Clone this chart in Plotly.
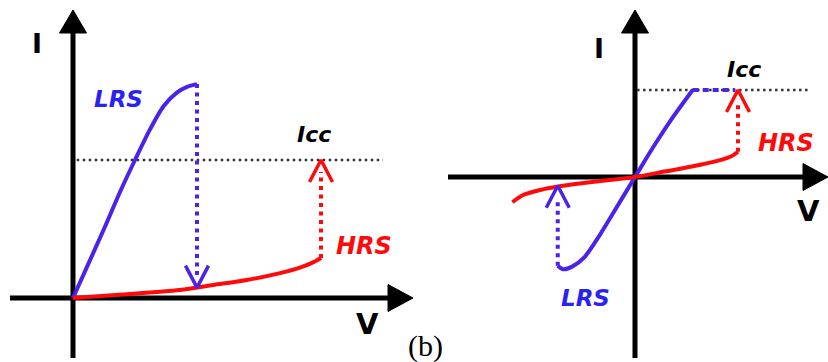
import plotly.graph_objects as go

W, H = 828, 362

# ---------------- data (normalised V / I units) ----------------
# Panel (a): unipolar switching
lrs_a_v = [0, 0.12, 0.25, 0.38, 0.50, 0.62, 0.73, 0.84, 0.92, 1.0]
lrs_a_i = [0, 0.24, 0.50, 0.77, 1.0, 1.22, 1.39, 1.49, 1.53, 1.55]
hrs_a_v = [0, 0.40, 0.86, 1.13, 1.40, 1.67, 1.83, 1.94, 2.0]
hrs_a_i = [0, 0.025, 0.058, 0.094, 0.13, 0.18, 0.22, 0.26, 0.29]
icc_a = 1.0
icc_a_span = [0.03, 2.50]
reset_a = (1.0, 1.55, 0.075)   # V, from I, to I
set_a = (2.0, 0.29, 1.0)

# Panel (b): bipolar switching
lrs_b_v = [-0.75, -0.70, -0.61, -0.49, -0.36, -0.21, 0, 0.17, 0.37, 0.56]
lrs_b_i = [-1.02, -1.06, -1.03, -0.92, -0.70, -0.41, 0, 0.33, 0.69, 1.0]
hrs_b_v = [-1.19, -1.09, -0.92, -0.75, -0.50, -0.25, 0, 0.30, 0.55, 0.80, 0.93, 1.0]
hrs_b_i = [-0.29, -0.21, -0.15, -0.11, -0.07, -0.035, 0, 0.065, 0.12, 0.185, 0.235, 0.29]
icc_b = 1.0
icc_b_span = [0.02, 1.68]
comp_b_v = [0.56, 0.97]      # LRS clamped at compliance
reset_b = (-0.75, -1.02, -0.10)
set_b = (1.0, 0.29, 1.0)

# ---------------- geometry (pixel placement of each panel) ----------------
PA = dict(ox=73, oy=298, sx=124, sy=138, xr="x", yr="y")
PB = dict(ox=635, oy=177, sx=103, sy=87, xr="x2", yr="y2")

BLUE = "#4b22ea"
BLUE_T = "#2a22f0"
RED = "#ff0a0a"
BLACK = "#000000"

fig = go.Figure()


def add(p, xs, ys, **kw):
    fig.add_trace(go.Scatter(x=xs, y=ys, xaxis=p["xr"], yaxis=p["yr"],
                             mode="lines", hoverinfo="skip", showlegend=False, **kw))


def v_of(p, px):
    return (px - p["ox"]) / p["sx"]


def i_of(p, py):
    return (p["oy"] - py) / p["sy"]


def axes(p, x0, x1, y0, y1):
    # horizontal axis with arrow
    L, hw = 25, 13.5
    add(p, [v_of(p, x0), v_of(p, x1 - L + 2)], [0, 0], line=dict(color=BLACK, width=5))
    tv = v_of(p, x1)
    add(p, [tv, tv - L / p["sx"], tv - L / p["sx"], tv], [0, hw / p["sy"], -hw / p["sy"], 0],
        fill="toself", fillcolor=BLACK, line=dict(color=BLACK, width=1))
    # vertical axis with arrow
    Lv, hwv = 23, 13.5
    add(p, [0, 0], [i_of(p, y0), i_of(p, y1 + Lv - 2)], line=dict(color=BLACK, width=5))
    ti = i_of(p, y1)
    add(p, [0, hwv / p["sx"], -hwv / p["sx"], 0], [ti, ti - Lv / p["sy"], ti - Lv / p["sy"], ti],
        fill="toself", fillcolor=BLACK, line=dict(color=BLACK, width=1))


def dotted_arrow(p, v, i_from, i_to, color):
    up = 1 if i_to > i_from else -1
    h, hw = 22, 11.5
    stop = i_to - up * 12 / p["sy"]
    add(p, [v, v], [i_from, stop], line=dict(color=color, width=4, dash="4px,4.5px"))
    arm = i_to - up * h / p["sy"]
    add(p, [v - hw / p["sx"], v, v + hw / p["sx"]], [arm, i_to, arm],
        line=dict(color=color, width=3.5))


# panel (a)
axes(PA, 10, 413, 358, 10)
add(PA, icc_a_span, [icc_a, icc_a], line=dict(color="#333333", width=2.5, dash="2.5px,3.5px"))
add(PA, lrs_a_v, lrs_a_i, line=dict(color=BLUE, width=4, shape="spline", smoothing=0.8))
add(PA, hrs_a_v, hrs_a_i, line=dict(color=RED, width=4, shape="spline", smoothing=0.8))
dotted_arrow(PA, reset_a[0], reset_a[1], reset_a[2], BLUE)
dotted_arrow(PA, set_a[0], set_a[1], set_a[2], RED)

# panel (b)
axes(PB, 448, 828, 358, 10)
add(PB, icc_b_span, [icc_b, icc_b], line=dict(color="#333333", width=2.5, dash="2.5px,3.5px"))
add(PB, comp_b_v, [icc_b, icc_b], line=dict(color=BLUE, width=4, dash="6px,4px"))
add(PB, lrs_b_v, lrs_b_i, line=dict(color=BLUE, width=4, shape="spline", smoothing=0.8))
add(PB, hrs_b_v, hrs_b_i, line=dict(color=RED, width=4, shape="spline", smoothing=0.8))
dotted_arrow(PB, reset_b[0], reset_b[1], reset_b[2], BLUE)
dotted_arrow(PB, set_b[0], set_b[1], set_b[2], RED)


def label(p, px, py, text, size, color=BLACK, family="DejaVu Sans"):
    fig.add_annotation(x=v_of(p, px), y=i_of(p, py), xref=p["xr"], yref=p["yr"],
                       text=text, showarrow=False, xanchor="center", yanchor="middle",
                       font=dict(family=family, size=size, color=color))


label(PA, 37, 43, "<b>I</b>", 27)
label(PA, 367, 324, "<b>V</b>", 29)
label(PA, 118, 99, "<b><i>LRS</i></b>", 23, BLUE_T)
label(PA, 364, 246, "<b><i>HRS</i></b>", 24, RED)
label(PA, 314, 134, "<b><i>Icc</i></b>", 22)

label(PB, 599, 48, "<b>I</b>", 27)
label(PB, 808, 211, "<b>V</b>", 29)
label(PB, 744, 69, "<b><i>Icc</i></b>", 22)
label(PB, 786, 143, "<b><i>HRS</i></b>", 24, RED)
label(PB, 585, 298, "<b><i>LRS</i></b>", 23, BLUE_T)

fig.add_annotation(x=426 / W, y=1 - 346 / H, xref="paper", yref="paper", text="(b)",
                   showarrow=False, xanchor="center", yanchor="middle",
                   font=dict(family="Liberation Serif", size=30, color=BLACK))


def rng(p):
    return ([v_of(p, 0), v_of(p, W)], [i_of(p, H), i_of(p, 0)])


xa, ya = rng(PA)
xb, yb = rng(PB)
hide = dict(visible=False, showgrid=False, zeroline=False, fixedrange=True)
fig.update_layout(
    width=W, height=H, margin=dict(l=0, r=0, t=0, b=0),
    paper_bgcolor="white", plot_bgcolor="white",
    xaxis=dict(range=xa, domain=[0, 1], **hide),
    yaxis=dict(range=ya, domain=[0, 1], **hide),
    xaxis2=dict(range=xb, overlaying="x", **hide),
    yaxis2=dict(range=yb, overlaying="y", **hide),
    showlegend=False,
)

fig.write_html("out.html")
